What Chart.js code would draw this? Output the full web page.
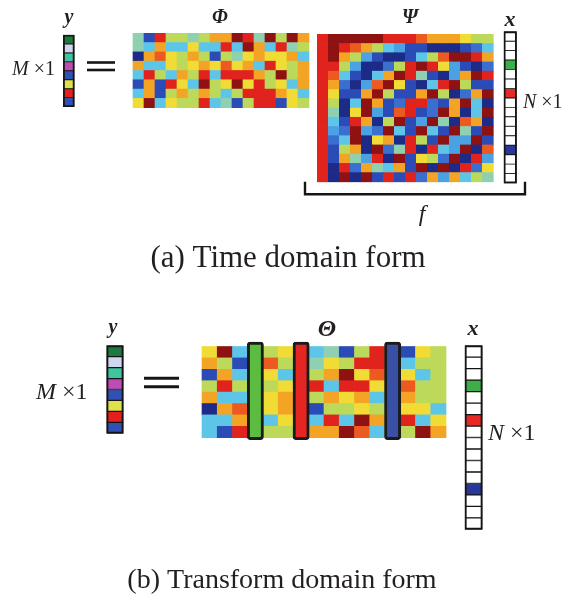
<!DOCTYPE html>
<html lang="en">
<head>
<meta charset="UTF-8">
<title>y = Phi Psi x : time domain and transform domain form</title>
<script src="https://cdn.jsdelivr.net/npm/chart.js"></script>
<style>
  html, body { margin: 0; padding: 0; background: #fff; }
  #wrap { width: 564px; height: 604px; }
</style>
</head>
<body>
<div id="wrap"><canvas id="diagram" width="564" height="604"></canvas></div>
<script>
// sizes of the system y = Phi * Psi * x = Theta * x
const M = 8;
const N = 16;

// colour level of each matrix cell, one hex digit per cell:
// 0 deep blue, 1 blue ... 5 green, 6 yellow-green, 7 yellow, 8 orange ... b dark red
const phiRows = [
  "51a665688ba5b6b8",
  "54844744a4b84a56",
  "0897686165787784",
  "844767879784a768",
  "4a6486a4aaa86b68",
  "181a74b67b7a6748",
  "4816868646aaa874",
  "7b4766a4516aa176"
];
const psiRows = [
  "abbbbbaaa9888766",
  "aba9864311000124",
  "ab8631001469bba8",
  "aa630026aba73102",
  "a941048ba51038ba",
  "a82039b7104ab611",
  "a7118b6118b6028b",
  "a604b812aa218b40",
  "a507b319a12b804b",
  "a41a806b13b50980",
  "a32b32b41b41b51b",
  "a24b0780a61b33b1",
  "a1680b25a0a43b09",
  "a1853a0b1762b0a3",
  "a0a285481b0b0a27",
  "a0b0b1a1a2838465"
];
const thetaRows = [
  "7b466764516a6176",
  "8616966576aa6466",
  "184674668b796746",
  "6a66676a4aa76966",
  "8446786687846866",
  "0896786166766774",
  "44864764a4b86a47",
  "41a666688b9466b8"
];

// entries of the measurement vector y
const yEntries = ["darkgreen", "lavender", "teal", "magenta", "blue", "yellow", "red", "blue"];
// non-zero entries of the sparse vector x (row index) = selected columns of Theta
const xSupport = [3, 6, 12];
const xSupportKeys = ["green", "red", "blue"];

// ---- styles ----
const levelColors = ["#1c2a88", "#2b4bb6", "#3a6fd0", "#4aa2e2", "#5dc6e8", "#8fd0b0",
                     "#bcd95a", "#f1dc35", "#f4a424", "#ec5a22", "#e0231d", "#8e1212"];
const yColors = { darkgreen: "#1d7a3e", lavender: "#cfd6ee", teal: "#3fc4a0", magenta: "#bf4bb5",
                  blue: "#3150b5", yellow: "#dfe14a", red: "#e4201f" };
const xColors = { zero: "#ffffff", green: "#3fae48", red: "#e42a22", blue: "#26389a" };
const columnColors = { green: "#5cbc3f", red: "#e52521", blue: "#3a50a6" };
const ink = "#231f20";
const serif = '"Liberation Serif", "Times New Roman", serif';

// ---- layout (canvas units) ----
const blocks = {
  phi:   { left: 133,   top: 33.3,  cw: 11,    ch: 9.3 },
  psi:   { left: 317.3, top: 34.3,  cw: 11,    ch: 9.22 },
  yTop:  { left: 63.3,  top: 35,    cw: 11,    ch: 8.96 },
  xTop:  { left: 504,   top: 31.7,  cw: 12.5,  ch: 9.46 },
  theta: { left: 202,   top: 346.5, cw: 15.25, ch: 11.4 },
  yBot:  { left: 106.7, top: 345.7, cw: 16.6,  ch: 10.95 },
  xBot:  { left: 465,   top: 345.7, cw: 17.3,  ch: 11.48 }
};

const f = (style, size) => `${style} ${size}px ${serif}`;
const texts = [
  { x: 69,  y: 23,  align: "center", parts: [["y", f("italic bold", 20)]] },
  { x: 220, y: 23,  align: "center", parts: [["Φ", f("italic bold", 20)]] },
  { x: 410, y: 23,  align: "center", parts: [["Ψ", f("italic bold", 20)]] },
  { x: 510, y: 26,  align: "center", parts: [["x", f("italic bold", 22)]] },
  { x: 12,  y: 75,  align: "left",   parts: [["M", f("italic", 20)], [" ×1", f("normal", 20)]] },
  { x: 523, y: 108, align: "left",   parts: [["N", f("italic", 20)], [" ×1", f("normal", 20)]] },
  { x: 422, y: 221, align: "center", parts: [["f", f("italic", 24)]] },
  { x: 288, y: 267, align: "center", parts: [["(a) Time domain form", f("normal", 31)]] },
  { x: 113, y: 333, align: "center", parts: [["y", f("italic bold", 20)]] },
  { x: 327, y: 336, align: "center", parts: [["Θ", f("italic bold", 24)]] },
  { x: 473, y: 335, align: "center", parts: [["x", f("italic bold", 22)]] },
  { x: 36,  y: 399, align: "left",   parts: [["M", f("italic", 24)], [" ×1", f("normal", 24)]] },
  { x: 488, y: 440, align: "left",   parts: [["N", f("italic", 24)], [" ×1", f("normal", 24)]] },
  { x: 282, y: 588, align: "center", parts: [["(b) Transform domain form", f("normal", 28)]] }
];

// ---- dataset builders ----
function cellBars(rows, b, colorOf, extra) {
  const data = [], colors = [];
  rows.forEach((row, r) => {
    for (let c = 0; c < row.length; c++) {
      data.push({ x: b.left + (c + 0.5) * b.cw, y: [b.top + r * b.ch, b.top + (r + 1) * b.ch] });
      colors.push(colorOf(row[c]));
    }
  });
  return Object.assign({
    type: "bar", data, backgroundColor: colors, barThickness: b.cw,
    borderWidth: 0, borderSkipped: false, grouped: false, order: 3
  }, extra || {});
}

function frameBar(b, count, width) {
  return {
    type: "bar", data: [{ x: b.left + b.cw / 2, y: [b.top, b.top + count * b.ch] }],
    backgroundColor: "rgba(0,0,0,0)", borderColor: "#151515", borderWidth: width,
    barThickness: b.cw, borderSkipped: false, grouped: false, order: 2
  };
}

function stroke(points, width) {
  return {
    type: "line", data: points.map(p => ({ x: p[0], y: p[1] })),
    borderColor: "#151515", borderWidth: width, pointRadius: 0, fill: false,
    tension: 0, borderCapStyle: "butt", borderJoinStyle: "miter", order: 1
  };
}

const levelColor = ch => levelColors[parseInt(ch, 16)];
const yCells = yEntries.map(e => [e]);
const xCells = Array.from({ length: N }, (_, i) =>
  [xSupport.includes(i) ? xSupportKeys[xSupport.indexOf(i)] : "zero"]);

const th = blocks.theta;
const highlight = {
  type: "bar",
  data: xSupport.map(i => ({ x: th.left + (i + 0.5) * th.cw, y: [th.top - 4.5, th.top + M * th.ch + 2] })),
  backgroundColor: xSupportKeys.map(k => columnColors[k]),
  borderColor: "#1b1b1b", borderWidth: 3, borderRadius: 3,
  barThickness: th.cw + 1, borderSkipped: false, grouped: false, order: 1
};

const ps = blocks.psi, xt = blocks.xTop;
const bracketBottom = ps.top + N * ps.ch + 12.5;
const datasets = [
  cellBars(phiRows, blocks.phi, levelColor),
  cellBars(psiRows, blocks.psi, levelColor),
  cellBars(thetaRows, blocks.theta, levelColor),
  cellBars(yCells, blocks.yTop, k => yColors[k], { borderWidth: 0.8, borderColor: "#151515" }),
  cellBars(xCells, blocks.xTop, k => xColors[k], { borderWidth: 0.8, borderColor: "#151515" }),
  cellBars(yCells, blocks.yBot, k => yColors[k], { borderWidth: 1, borderColor: "#151515" }),
  cellBars(xCells, blocks.xBot, k => xColors[k], { borderWidth: 1, borderColor: "#151515" }),
  frameBar(blocks.yTop, M, 1.2),
  frameBar(blocks.xTop, N, 1.2),
  frameBar(blocks.yBot, M, 1.3),
  frameBar(blocks.xBot, N, 1.3),
  highlight,
  // equals signs
  stroke([[87, 62.5], [115, 62.5]], 2.6),
  stroke([[87, 70], [115, 70]], 2.6),
  stroke([[144, 378.3], [179, 378.3]], 3),
  stroke([[144, 386.7], [179, 386.7]], 3),
  // bracket under Psi and x  (= f)
  stroke([[ps.left - 12.3, bracketBottom - 12.5], [ps.left - 12.3, bracketBottom],
          [xt.left + xt.cw + 8.5, bracketBottom], [xt.left + xt.cw + 8.5, bracketBottom - 12.5]], 2.4)
];

const textPlugin = {
  id: "diagramText",
  afterDatasetsDraw(chart) {
    const { ctx, scales: { x, y } } = chart;
    ctx.save();
    ctx.fillStyle = ink;
    ctx.textBaseline = "alphabetic";
    texts.forEach(t => {
      let px = x.getPixelForValue(t.x);
      const py = y.getPixelForValue(t.y);
      if (t.align === "center") {
        let total = 0;
        t.parts.forEach(([s, font]) => { ctx.font = font; total += ctx.measureText(s).width; });
        px -= total / 2;
      }
      t.parts.forEach(([s, font]) => {
        ctx.font = font;
        ctx.fillText(s, px, py);
        px += ctx.measureText(s).width;
      });
    });
    ctx.restore();
  }
};

new Chart(document.getElementById("diagram"), {
  type: "bar",
  data: { datasets },
  options: {
    responsive: false,
    animation: false,
    events: [],
    layout: { padding: 0 },
    plugins: { legend: { display: false }, tooltip: { enabled: false } },
    scales: {
      x: { type: "linear", min: 0, max: 564, offset: false, display: false },
      y: { type: "linear", min: 0, max: 604, reverse: true, display: false }
    }
  },
  plugins: [textPlugin]
});
</script>
</body>
</html>
